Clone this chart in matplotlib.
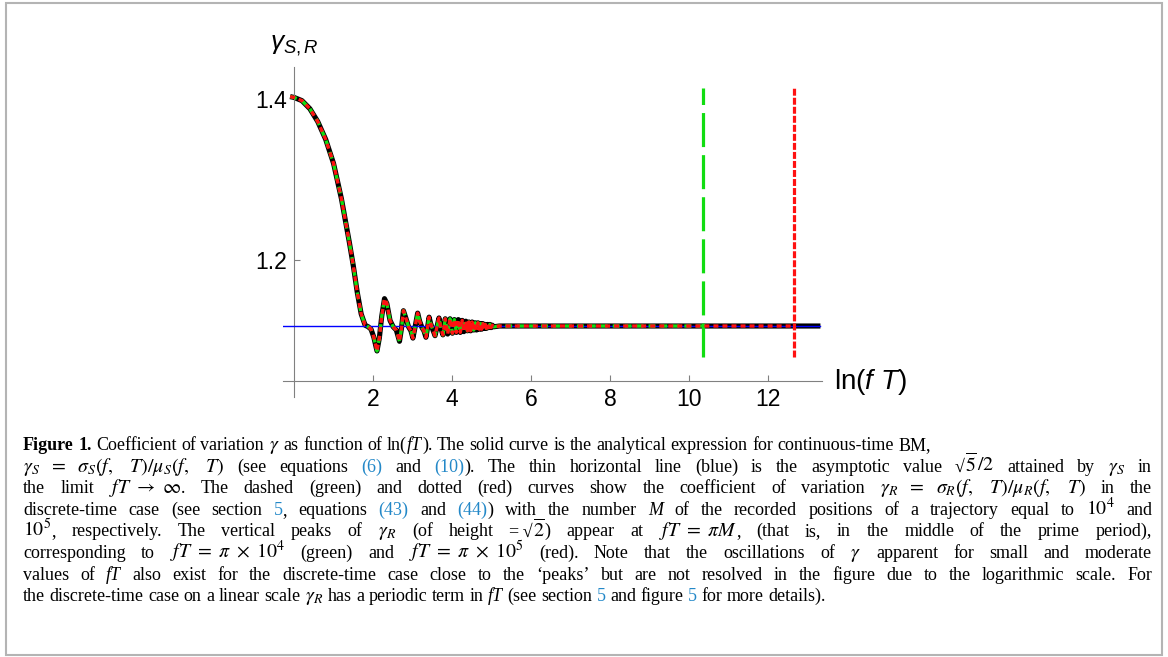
import numpy as np
import matplotlib
matplotlib.use("Agg")
import matplotlib.pyplot as plt
from matplotlib.patches import Rectangle

plt.rcParams['mathtext.fontset'] = 'custom'
plt.rcParams['mathtext.rm'] = 'Liberation Sans'
plt.rcParams['mathtext.it'] = 'Liberation Sans:italic'
plt.rcParams['lines.scale_dashes'] = False

# ---------------- data ----------------
# continuous-time coefficient of variation gamma_S vs ln(fT)
ln_fT = [-0.10, 0.00, 0.20, 0.40, 0.60, 0.80, 1.00, 1.20, 1.40, 1.50, 1.60, 1.70, 1.80, 1.88,
         1.95, 2.02, 2.10, 2.16, 2.22, 2.29, 2.35, 2.43, 2.51, 2.59, 2.67, 2.72, 2.77, 2.83,
         2.90, 2.96, 3.01, 3.07, 3.13, 3.18, 3.24, 3.29, 3.34, 3.38, 3.42, 3.46, 3.51, 3.57,
         3.62, 3.67, 3.72, 3.77, 3.83, 3.89, 3.95, 4.01, 4.06, 4.11, 4.16, 4.21, 4.26, 4.30,
         4.35, 4.39, 4.43, 4.47, 4.51, 4.55, 4.59, 4.62, 4.66, 4.69, 4.72, 4.75, 4.78, 4.81,
         4.84, 4.87, 4.90, 4.93, 4.96, 4.99, 5.02, 5.05, 5.20, 10.355, 12.658, 13.33]
gamma_S = [1.403, 1.402, 1.398, 1.388, 1.372, 1.350, 1.320, 1.276, 1.222, 1.193, 1.160, 1.133, 1.119, 1.117,
           1.114, 1.104, 1.087, 1.103, 1.130, 1.152, 1.146, 1.125, 1.117, 1.113, 1.099, 1.115, 1.137, 1.128,
           1.117, 1.112, 1.103, 1.118, 1.134, 1.124, 1.116, 1.112, 1.104, 1.116, 1.129, 1.121, 1.114, 1.106,
           1.117, 1.128, 1.115, 1.107, 1.127, 1.108, 1.127, 1.109, 1.126, 1.110, 1.126, 1.110, 1.125, 1.111,
           1.124, 1.112, 1.123, 1.112, 1.123, 1.113, 1.122, 1.113, 1.122, 1.114, 1.121, 1.114, 1.121, 1.115,
           1.120, 1.115, 1.120, 1.116, 1.120, 1.116, 1.119, 1.117, 1.118, 1.118, 1.118, 1.118]
asymptote = 1.118            # sqrt(5)/2
peak_height = 1.414          # sqrt(2)
peak_low = 1.079
peak_green = 10.355          # ln(pi*1e4), M = 1e4
peak_red = 12.658            # ln(pi*1e5), M = 1e5

x_ticks = [2, 4, 6, 8, 10, 12]
y_ticks = [1.2, 1.4]
y_tick_labels = ['1.2', '1.4']

# ---------------- figure ----------------
W, H = 1168, 657
fig = plt.figure(figsize=(W / 100, H / 100), dpi=100)
fig.patch.set_facecolor('white')


def fx(px):
    return px / W


def fy(py):
    return 1 - py / H


ax = fig.add_axes([fx(283), fy(397), (822 - 283) / W, (397 - 67) / H])
ax.set_xlim(-0.28, 13.37)
ax.set_ylim(1.0298, 1.4398)
ax.patch.set_alpha(0)

for s in ['top', 'right']:
    ax.spines[s].set_visible(False)
ax.spines['left'].set_position(('data', 0))
ax.spines['bottom'].set_position(('data', 1.05))
for s in ['left', 'bottom']:
    ax.spines[s].set_color('#808080')
    ax.spines[s].set_linewidth(0.8)

ax.set_xticks(x_ticks)
ax.set_yticks(y_ticks)
ax.set_yticklabels(y_tick_labels)
ax.tick_params(direction='in', length=4.5, width=0.8, color='#808080',
               labelsize=16.5, pad=5)
for lab in ax.get_xticklabels() + ax.get_yticklabels():
    lab.set_fontfamily('Liberation Sans')

x = np.array(ln_fT)
y = np.array(gamma_S)

# solid black continuous curve
ax.plot(x, y, color='black', lw=3.7, solid_capstyle='butt', solid_joinstyle='round',
        zorder=2, clip_on=False)
# asymptote
ax.plot([-0.28, 13.33], [asymptote, asymptote], color='#0000ff', lw=1.0, zorder=3)

# discrete-time curves (green M=1e4, red M=1e5)
mg = x <= peak_green
ax.plot(x[mg], y[mg], color='#11dd11', lw=2.4, dashes=(5.0, 3.6), zorder=4, clip_on=False)
mr = x <= peak_red
ax.plot(x[mr], y[mr], color='#ff1111', lw=2.4, dashes=(3.6, 2.9), dash_capstyle='butt',
        zorder=5, clip_on=False)
# vertical peaks
ax.plot([peak_green, peak_green], [peak_low, peak_height], color='#11dd11', lw=2.3,
        dashes=(24.5, 5.8), zorder=4)
ax.plot([peak_red, peak_red], [peak_low, peak_height], color='#ff1111', lw=2.3,
        dashes=(5.0, 1.5), zorder=5)

# axis labels
fig.text(fx(270), fy(45), r'$\gamma_{S,R}$', fontsize=19, va='center', ha='left',
         math_fontfamily='custom')
fig.text(fx(834), fy(382), r'ln($f\ T$)', fontsize=20, va='center', ha='left',
         family='Liberation Sans', math_fontfamily='custom')

# frame
fig.patches.append(Rectangle((fx(6), fy(655)), (1162 - 6) / W, (655 - 3) / H,
                             transform=fig.transFigure, fill=False,
                             ec='#b4b4b4', lw=1.5))

# ---------------- caption ----------------
SERIF = 'Liberation Serif'
FS = 13.0
LINK = '#2388c8'
styles = {
    'n': dict(family=SERIF),
    'b': dict(family=SERIF, weight='bold'),
    'i': dict(family=SERIF, style='italic'),
    'l': dict(family=SERIF, color=LINK),
    'm': dict(family=SERIF, math_fontfamily='stix'),
}
scale = {'n': 1.0, 'b': 1.0, 'i': 1.0, 'l': 1.0, 'm': 1.1}

GS = r"$\gamma_S\ \ =\ \ \sigma_S(f,\ \ \ T)/\mu_S(f,\ \ \ T)$"
GR = r"$\gamma_R\ \ =\ \ \sigma_R(f,\ \ \ T)/\mu_R(f,\ \ \ T)$"
caption = [
    [("Figure 1.", 'b'), (" Coefficient of variation ", 'n'), (r"$\gamma$", 'm'),
     (" as function of ln(", 'n'), ("fT", 'i'),
     ("). The solid curve is the analytical expression for continuous-time BM,", 'n')],
    [(GS, 'm'), (" (see equations ", 'n'), ("(6)", 'l'),
     (" and ", 'n'), ("(10)", 'l'),
     ("). The thin horizontal line (blue) is the asymptotic value \u221a", 'n'),
     (r"$\overline{5}\,/2$", 'm'), (" attained by ", 'n'), (r"$\gamma_S$", 'm'), (" in", 'n')],
    [("the limit ", 'n'), (r"$fT\ \rightarrow\ \infty$", 'm'),
     (". The dashed (green) and dotted (red) curves show the coefficient of variation ", 'n'),
     (GR, 'm'), (" in the", 'n')],
    [("discrete-time case (see section ", 'n'), ("5", 'l'), (", equations ", 'n'), ("(43)", 'l'),
     (" and ", 'n'), ("(44)", 'l'), (") with the number ", 'n'), ("M", 'i'),
     (" of the recorded positions of a trajectory equal to ", 'n'), (r"$10^4$", 'm'), (" and", 'n')],
    [(r"$10^5$", 'm'), (", respectively. The vertical peaks of ", 'n'), (r"$\gamma_R$", 'm'),
     (" (of height =\u2009\u221a", 'n'), (r"$\overline{2}$", 'm'), (") appear at ", 'n'),
     (r"$fT\ =\ \pi M$", 'm'), (", (that is, in the middle of the prime period),", 'n')],
    [("corresponding to ", 'n'), (r"$fT\ =\ \pi\ \times\ 10^4$", 'm'), (" (green) and ", 'n'),
     (r"$fT\ =\ \pi\ \times\ 10^5$", 'm'), (" (red). Note that the oscillations of ", 'n'),
     (r"$\gamma$", 'm'), (" apparent for small and moderate", 'n')],
    [("values of ", 'n'), ("fT", 'i'),
     (" also exist for the discrete-time case close to the \u2018peaks\u2019 but are not resolved in the figure due to the logarithmic scale. For", 'n')],
    [("the discrete-time case on a linear scale ", 'n'), (r"$\gamma_R$", 'm'),
     (" has a periodic term in ", 'n'), ("fT", 'i'), (" (see section ", 'n'), ("5", 'l'),
     (" and figure ", 'n'), ("5", 'l'), (" for more details).", 'n')],
]
justify = [False, True, True, True, True, True, True, False]


def tokenize(line):
    toks = []
    pending = False
    for text, st in line:
        if st == 'm':
            toks.append((text, st, pending))
            pending = False
            continue
        parts = text.split(' ')
        for i, p in enumerate(parts):
            if i > 0:
                pending = True
            if p == '':
                continue
            toks.append((p, st, pending))
            pending = False
    return toks


renderer = fig.canvas.get_renderer()


def twidth(s, **kw):
    t = fig.text(0, 0, s, fontsize=FS, **kw)
    w = t.get_window_extent(renderer).width
    t.remove()
    return w


space_w = twidth("a a", family=SERIF) - twidth("aa", family=SERIF)

X0, RIGHT = 23, 1152
Y0, DY = 450, 21.6
for li, line in enumerate(caption):
    toks = tokenize(line)
    objs, widths = [], []
    for t, st, sp in toks:
        o = fig.text(0, 0, t, fontsize=FS * scale[st], va='baseline', ha='left', **styles[st])
        objs.append(o)
        widths.append(o.get_window_extent(renderer).width)
    nsp = sum(1 for t in toks if t[2])
    nat = sum(widths) + nsp * space_w
    extra = (RIGHT - X0 - nat) / nsp if (justify[li] and nsp) else 0.0
    xc = X0
    yb = Y0 + li * DY
    for o, w, (t, st, sp) in zip(objs, widths, toks):
        if sp:
            xc += space_w + extra
        o.set_position((fx(xc), fy(yb)))
        xc += w

fig.savefig('out.png', dpi=100)
